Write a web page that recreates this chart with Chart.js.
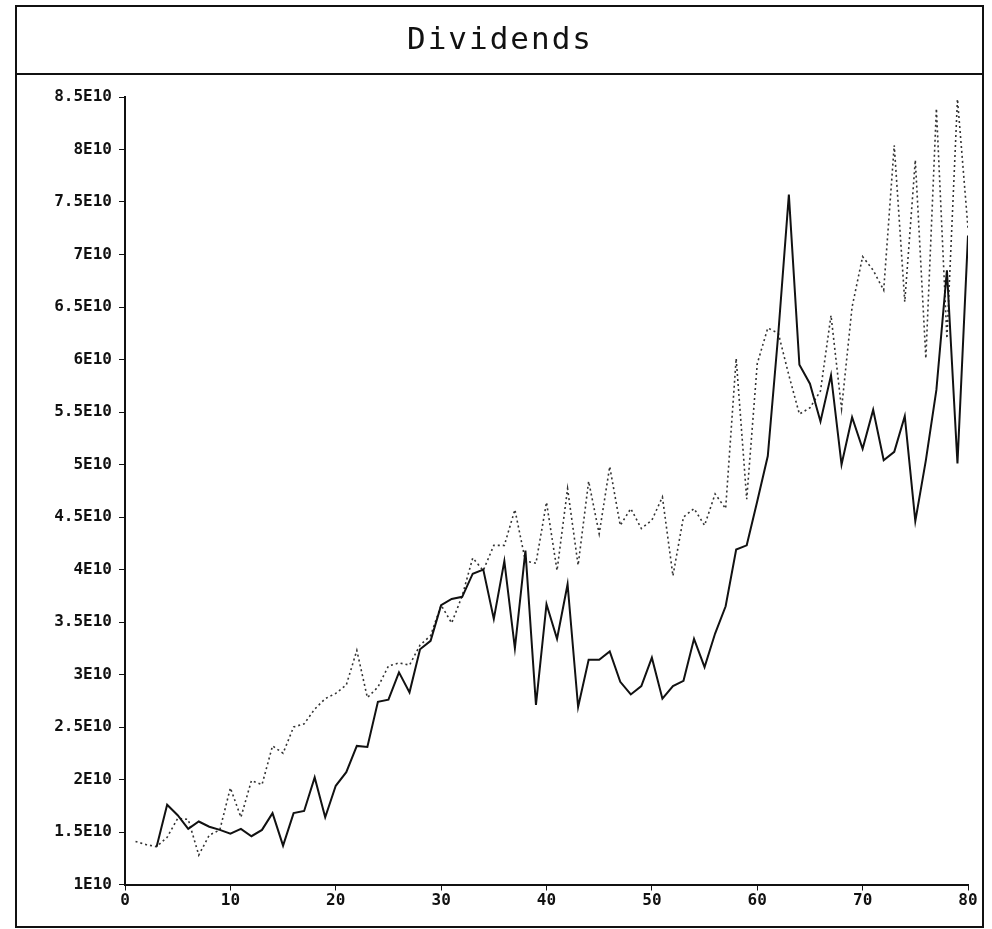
<!DOCTYPE html>
<html>
<head>
<meta charset="utf-8">
<title>Dividends</title>
<script src="https://cdn.jsdelivr.net/npm/chart.js@4/dist/chart.umd.min.js"></script>
<style>
  html, body { margin: 0; padding: 0; background: #fff; }
  #wrap { width: 992px; height: 929px; }
</style>
</head>
<body>
<div id="wrap"><canvas id="divChart" width="992" height="929"></canvas></div>
<script>
'use strict'

const chartTitle = 'Dividends';

// periods 1..80
const periods = [
  1, 2, 3, 4, 5, 6, 7, 8, 9, 10, 11, 12, 13, 14, 15, 16, 17, 18, 19, 20,
  21, 22, 23, 24, 25, 26, 27, 28, 29, 30, 31, 32, 33, 34, 35, 36, 37, 38, 39, 40,
  41, 42, 43, 44, 45, 46, 47, 48, 49, 50, 51, 52, 53, 54, 55, 56, 57, 58, 59, 60,
  61, 62, 63, 64, 65, 66, 67, 68, 69, 70, 71, 72, 73, 74, 75, 76, 77, 78, 79, 80
];

// solid line (starts at period 3)
const solidSeries = [
  null, null, 1.36e10, 1.76e10, 1.66e10, 1.53e10, 1.60e10, 1.55e10, 1.52e10, 1.485e10,
  1.53e10, 1.46e10, 1.52e10, 1.68e10, 1.37e10, 1.68e10, 1.70e10, 2.02e10, 1.64e10, 1.94e10,
  2.07e10, 2.32e10, 2.31e10, 2.74e10, 2.76e10, 3.02e10, 2.83e10, 3.24e10, 3.32e10, 3.66e10,
  3.72e10, 3.74e10, 3.96e10, 4.00e10, 3.53e10, 4.08e10, 3.25e10, 4.18e10, 2.71e10, 3.67e10,
  3.34e10, 3.86e10, 2.69e10, 3.14e10, 3.14e10, 3.22e10, 2.93e10, 2.81e10, 2.89e10, 3.16e10,
  2.77e10, 2.89e10, 2.94e10, 3.34e10, 3.07e10, 3.39e10, 3.65e10, 4.19e10, 4.23e10, 4.65e10,
  5.08e10, 6.25e10, 7.57e10, 5.95e10, 5.77e10, 5.41e10, 5.85e10, 5.00e10, 5.45e10, 5.15e10,
  5.52e10, 5.04e10, 5.12e10, 5.46e10, 4.46e10, 5.04e10, 5.71e10, 6.85e10, 5.01e10, 7.18e10
];

// dotted line
const dottedSeries = [
  1.41e10, 1.38e10, 1.36e10, 1.45e10, 1.63e10, 1.62e10, 1.28e10, 1.47e10, 1.52e10, 1.92e10,
  1.64e10, 1.99e10, 1.95e10, 2.32e10, 2.25e10, 2.50e10, 2.53e10, 2.67e10, 2.77e10, 2.82e10,
  2.90e10, 3.23e10, 2.78e10, 2.88e10, 3.08e10, 3.11e10, 3.09e10, 3.28e10, 3.37e10, 3.66e10,
  3.49e10, 3.75e10, 4.11e10, 3.99e10, 4.23e10, 4.23e10, 4.57e10, 4.08e10, 4.06e10, 4.64e10,
  3.99e10, 4.77e10, 4.04e10, 4.84e10, 4.34e10, 4.98e10, 4.42e10, 4.58e10, 4.39e10, 4.47e10,
  4.69e10, 3.94e10, 4.50e10, 4.58e10, 4.42e10, 4.72e10, 4.58e10, 6.01e10, 4.67e10, 5.96e10,
  6.30e10, 6.25e10, 5.85e10, 5.48e10, 5.54e10, 5.70e10, 6.42e10, 5.53e10, 6.50e10, 6.98e10,
  6.85e10, 6.66e10, 8.04e10, 6.55e10, 7.90e10, 6.01e10, 8.39e10, 6.20e10, 8.48e10, 7.25e10
];

const xTicks = [0, 10, 20, 30, 40, 50, 60, 70, 80];
const yTicks = [1e10, 1.5e10, 2e10, 2.5e10, 3e10, 3.5e10, 4e10, 4.5e10, 5e10, 5.5e10, 6e10, 6.5e10, 7e10, 7.5e10, 8e10, 8.5e10];

const tickFont = { family: '"DejaVu Sans Mono", monospace', size: 16, weight: 'bold' };

// outer frame, title text and the line under the title
const framePlugin = {
  id: 'frame',
  afterDraw(chart) {
    const c = chart.ctx;
    c.save();
    c.strokeStyle = '#111';
    c.lineWidth = 2;
    c.strokeRect(16, 6, 967, 921);
    c.beginPath();
    c.moveTo(16, 74);
    c.lineTo(983, 74);
    c.stroke();

    c.fillStyle = '#111';
    c.font = '31px "DejaVu Sans Mono", monospace';
    c.letterSpacing = '2px';
    c.textAlign = 'center';
    c.textBaseline = 'middle';
    c.fillText(chartTitle, 500, 41);
    c.restore();
  }
};

const ctx = document.getElementById('divChart').getContext('2d');

const data = {
  datasets: [
    {
      label: 'solid',
      data: periods.map((p, i) => ({ x: p, y: solidSeries[i] })),
      borderColor: '#111',
      borderWidth: 2,
      pointRadius: 0,
      tension: 0,
    },
    {
      label: 'dotted',
      data: periods.map((p, i) => ({ x: p, y: dottedSeries[i] })),
      borderColor: '#333',
      borderWidth: 1.6,
      borderDash: [2, 3],
      pointRadius: 0,
      tension: 0,
    },
  ],
};

const options = {
  responsive: false,
  animation: false,
  layout: {
    padding: { left: 0, right: 24, top: 97, bottom: 0 },
  },
  plugins: {
    legend: { display: false },
    tooltip: { enabled: false },
    title: { display: false },
  },
  scales: {
    x: {
      type: 'linear',
      min: 0,
      max: 80,
      afterBuildTicks: s => { s.ticks = xTicks.map(v => ({ value: v })); },
      afterFit: s => { s.height = 44.5; },
      grid: { drawOnChartArea: false, drawTicks: true, tickLength: 6, color: '#111' },
      border: { display: true, color: '#111', width: 2 },
      ticks: { color: '#111', font: tickFont, padding: 1, maxRotation: 0 },
    },
    y: {
      type: 'linear',
      min: 1e10,
      max: 8.5e10,
      afterBuildTicks: s => { s.ticks = yTicks.map(v => ({ value: v })); },
      afterFit: s => { s.width = 125; },
      grid: { drawOnChartArea: false, drawTicks: true, tickLength: 6, color: '#111' },
      border: { display: true, color: '#111', width: 2 },
      ticks: {
        color: '#111',
        font: tickFont,
        padding: 7,
        callback: v => (Math.round(v / 1e9) / 10) + 'E10',
      },
    },
  },
};

const divChart = new Chart(ctx, {
  type: 'line',
  data: data,
  options: options,
  plugins: [framePlugin],
});
</script>
</body>
</html>
